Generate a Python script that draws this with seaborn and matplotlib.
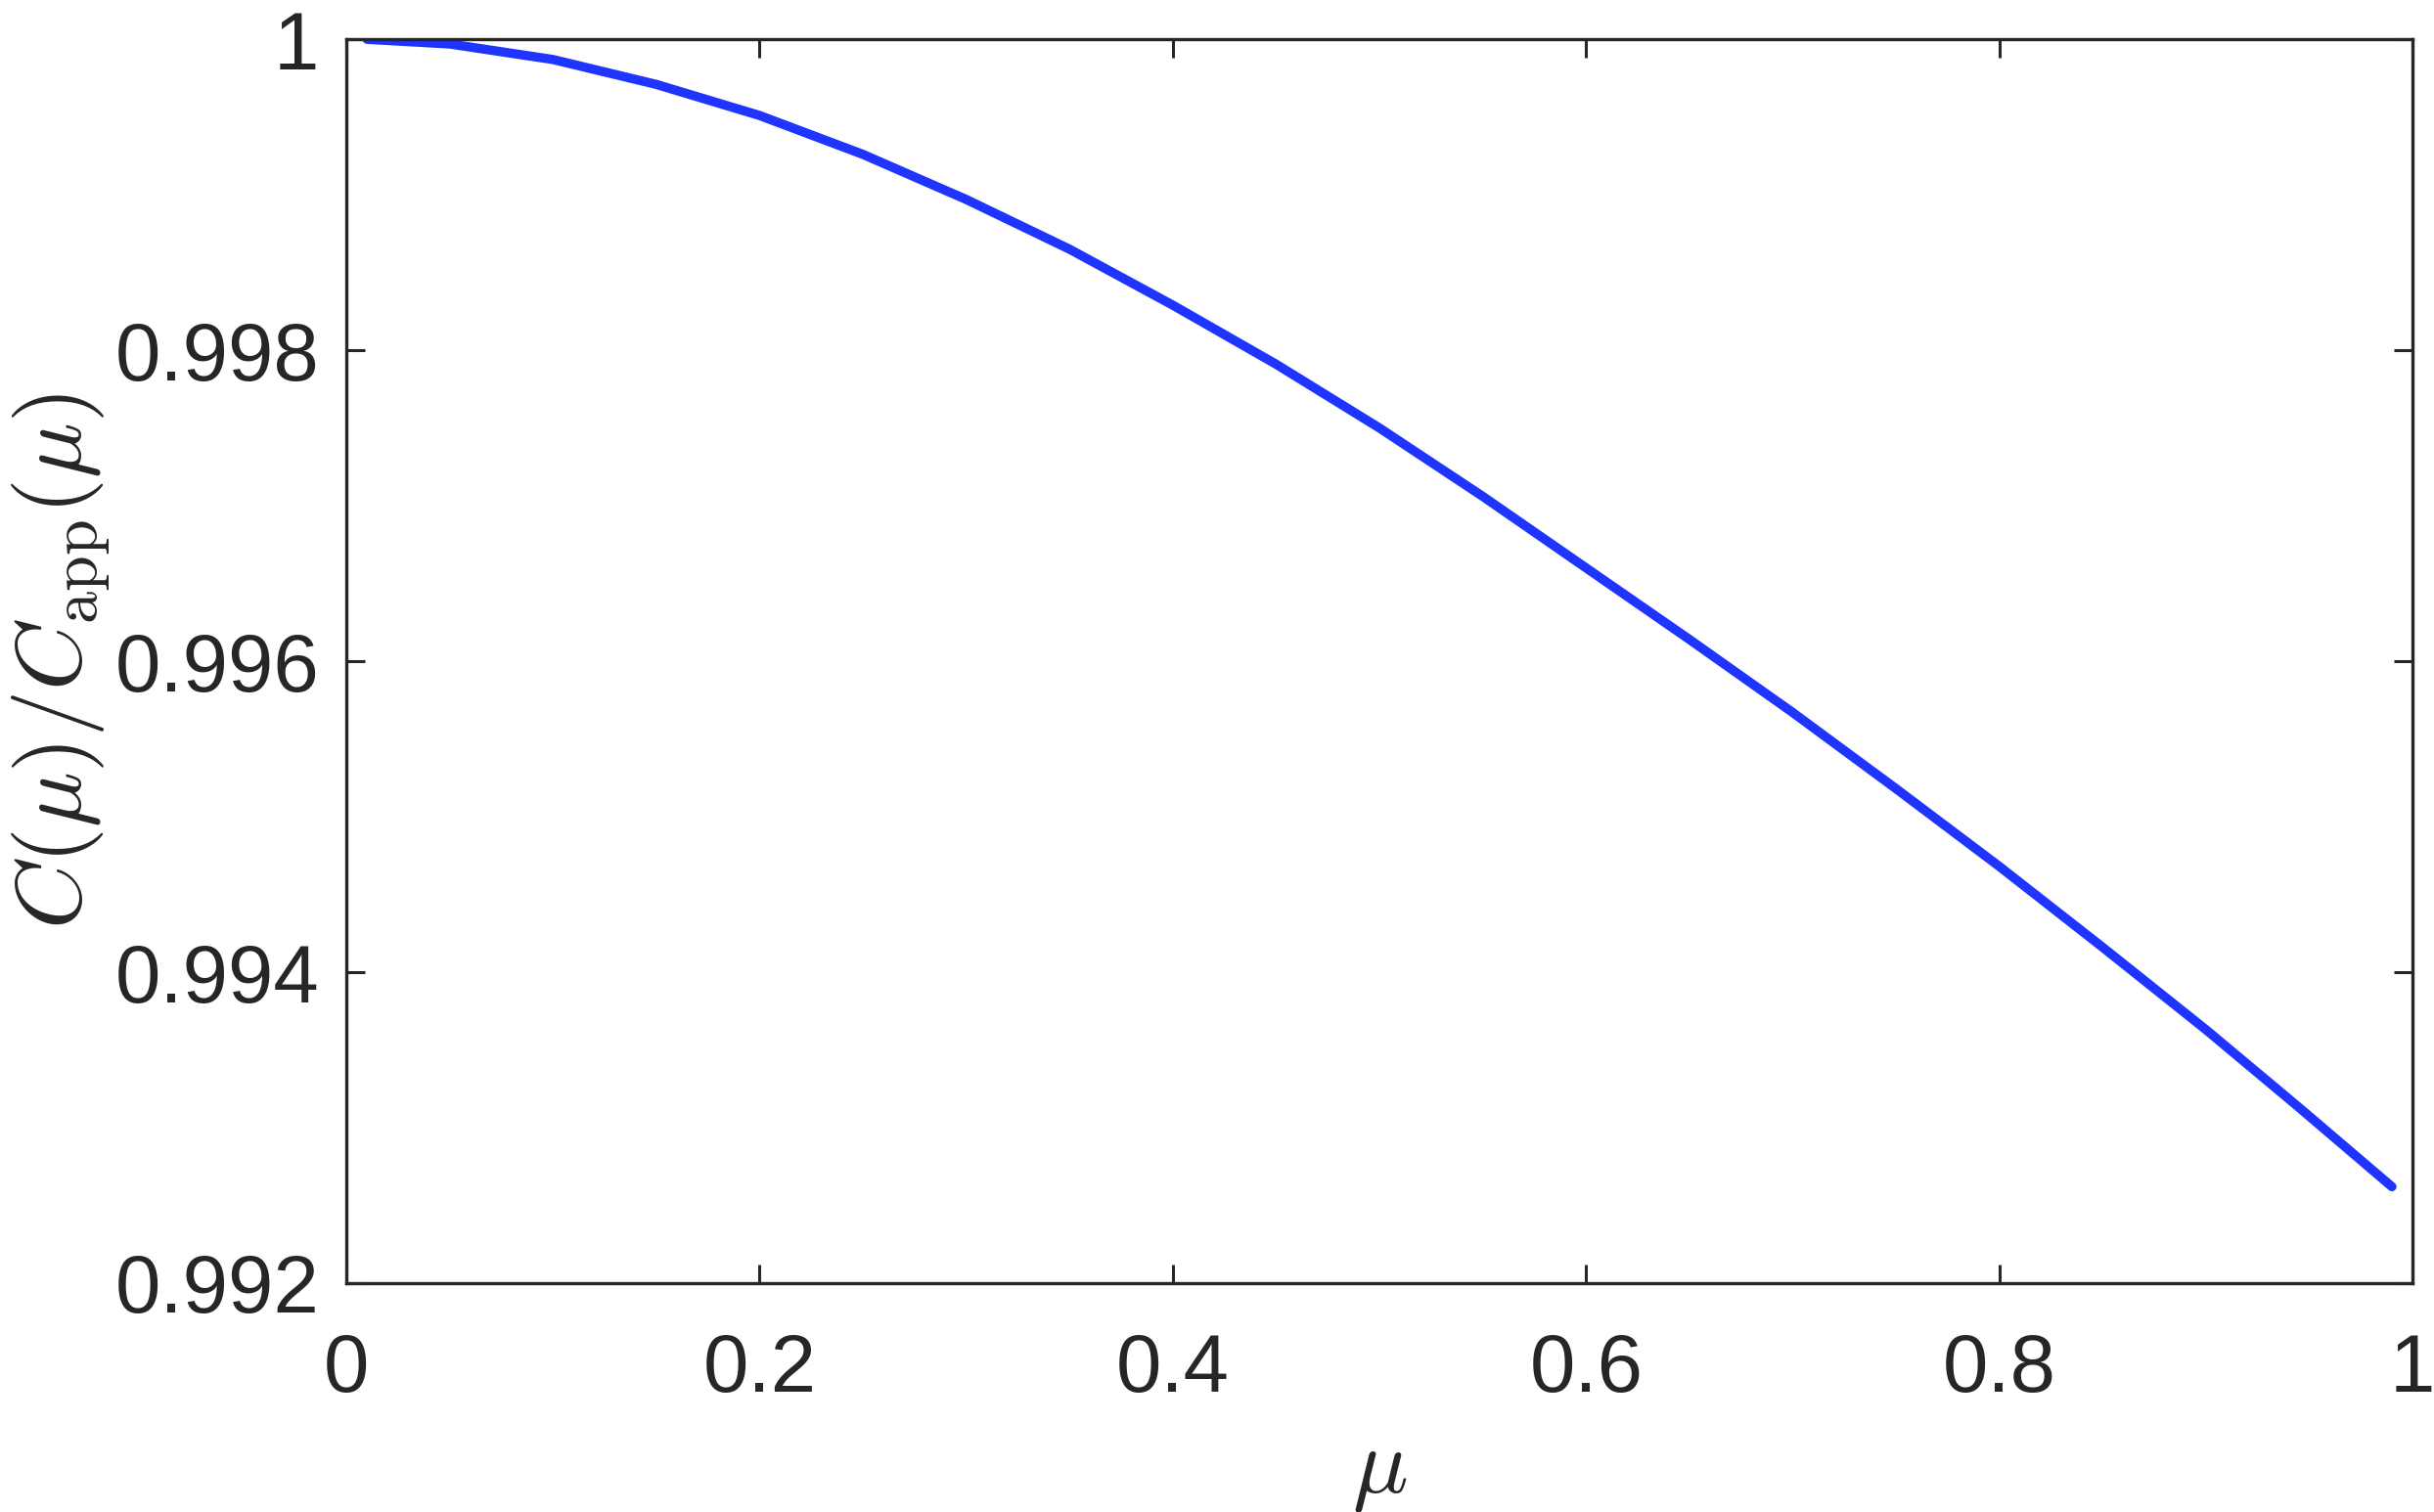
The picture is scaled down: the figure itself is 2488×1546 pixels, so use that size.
"""
Ratio C(mu)/C_app(mu) against mu, redrawn with seaborn.
"""
import matplotlib
matplotlib.use("Agg")
import matplotlib.pyplot as plt
import seaborn as sns
import pandas as pd

# values
mu = [0.01, 0.05, 0.1, 0.15, 0.2, 0.25, 0.3, 0.35, 0.4, 0.45, 0.5, 0.55,
      0.6, 0.65, 0.7, 0.75, 0.8, 0.85, 0.9, 0.945, 0.99]
ratio = [1.0, 0.99997, 0.99987, 0.99971, 0.99951, 0.99926, 0.99897,
         0.99865, 0.99829, 0.99791, 0.99750, 0.99706, 0.99660, 0.99614,
         0.99567, 0.99518, 0.99468, 0.99416, 0.99363, 0.99313, 0.99262]

x_ticks = [0, 0.2, 0.4, 0.6, 0.8, 1]
x_tick_labels = ["0", "0.2", "0.4", "0.6", "0.8", "1"]
y_ticks = [0.992, 0.994, 0.996, 0.998, 1.0]
y_tick_labels = ["0.992", "0.994", "0.996", "0.998", "1"]

df = pd.DataFrame({"mu": mu, "ratio": ratio})

sns.set_theme(style="white")
plt.rcParams["font.family"] = ["Liberation Sans", "DejaVu Sans"]
plt.rcParams["mathtext.fontset"] = "cm"

ink = "#262626"

fig, ax = plt.subplots(figsize=(12.44, 7.73), dpi=200)
fig.subplots_adjust(left=0.1423, right=0.9912, top=0.974, bottom=0.1514)

sns.lineplot(data=df, x="mu", y="ratio", color="#1F35FF", linewidth=3.4,
             ax=ax, legend=False)

ax.set_xlim(0, 1)
ax.set_ylim(0.992, 1.0)
ax.set_xticks(x_ticks)
ax.set_xticklabels(x_tick_labels)
ax.set_yticks(y_ticks)
ax.set_yticklabels(y_tick_labels)

# MATLAB-like box with inward ticks on every side
for side in ["left", "right", "top", "bottom"]:
    ax.spines[side].set_visible(True)
    ax.spines[side].set_color(ink)
    ax.spines[side].set_linewidth(1.2)
ax.tick_params(axis="both", which="major", direction="in", length=7,
               width=1.1, color=ink, labelcolor=ink, labelsize=30,
               top=True, right=True, bottom=True, left=True)
ax.tick_params(axis="x", pad=18)
ax.tick_params(axis="y", pad=10)

ax.set_xlabel(r"$\mu$", fontsize=34, color=ink)
ax.set_ylabel(r"$C(\mu)/C_{\rm app}(\mu)$", fontsize=34, color=ink)
ax.xaxis.set_label_coords(0.5, -0.116)
ax.yaxis.set_label_coords(-0.113, 0.5)

fig.savefig("out.png", dpi=200, facecolor="white")
